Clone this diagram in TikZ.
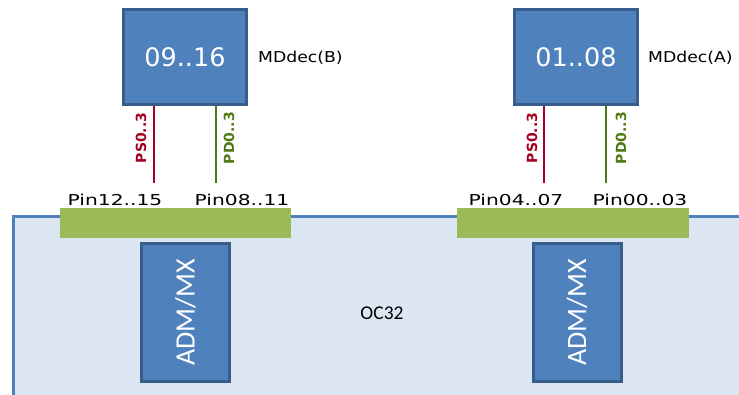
\documentclass[tikz,border=0pt]{standalone}
\usepackage{fontspec}
\setmainfont{DejaVu Sans}
\newfontfamily\pinfont[FakeStretch=1.35]{DejaVu Sans}
\newfontfamily\labfont[FakeStretch=1.15]{DejaVu Sans}
\newfontfamily\calfont{Carlito}
\usetikzlibrary{positioning}
\definecolor{boxblue}{RGB}{79,129,189}
\definecolor{boxedge}{RGB}{56,93,138}
\definecolor{panelfill}{RGB}{220,230,242}
\definecolor{bargreen}{RGB}{155,187,89}
\definecolor{psred}{RGB}{165,0,33}
\definecolor{pdgreen}{RGB}{79,122,19}
\tikzset{
  decbox/.style={draw=boxedge,fill=boxblue,line width=3pt,minimum width=123pt,minimum height=95pt,
    text=white,font=\fontsize{25.5}{30}\selectfont},
  admbox/.style={draw=boxedge,fill=boxblue,line width=3pt,minimum width=88pt,minimum height=138pt},
  pinbar/.style={fill=bargreen,minimum height=30pt,inner sep=0pt},
  pinlab/.style={anchor=base,inner sep=0pt,font=\pinfont\fontsize{15}{17}\selectfont},
  siglab/.style={rotate=90,inner sep=0pt,font=\bfseries\fontsize{14}{16}\selectfont},
  psline/.style={psred,line width=2pt},
  pdline/.style={pdgreen,line width=2pt},
}
\begin{document}
\begin{tikzpicture}[x=1pt,y=-1pt]
    \useasboundingbox (0,0) rectangle (739,394);
    % board
    \fill[panelfill] (13,216) rectangle (745,400);
    \draw[boxblue,line width=3pt] (745,216) -- (13,216) -- (13,400);
    \node[font=\calfont\fontsize{19.5}{22}\selectfont] (oc) at (382,313) {OC32};
    % connectors
    \node[pinbar,minimum width=231pt] (barB) at (175.5,223) {};
    \node[pinbar,minimum width=232pt] (barA) at (573,223) {};
    \node[pinlab] (pin1215) at (115,205) {Pin12..15};
    \node[pinlab] (pin0811) at (242,205) {Pin08..11};
    \node[pinlab] (pin0407) at (516,205) {Pin04..07};
    \node[pinlab] (pin0003) at (640,205) {Pin00..03};
    % ADM/MX modules
    \node[admbox] (admB) at (185.5,312.5) {};
    \node[admbox] (admA) at (577,312.5) {};
    \node[rotate=90,text=white,font=\calfont\fontsize{28}{32}\selectfont] at (admB) {ADM/MX};
    \node[rotate=90,text=white,font=\calfont\fontsize{28}{32}\selectfont] at (admA) {ADM/MX};
    % decoders
    \node[decbox] (decB) at (185,57) {09..16};
    \node[decbox] (decA) at (576,57) {01..08};
    \node[anchor=west,inner sep=0pt,font=\labfont\fontsize{15}{18}\selectfont] (mdB) at ([xshift=10pt,yshift=-1pt]decB.east) {MDdec(B)};
    \node[anchor=west,inner sep=0pt,font=\labfont\fontsize{15}{18}\selectfont] (mdA) at ([xshift=9pt,yshift=-1pt]decA.east) {MDdec(A)};
    % signal lines
    \coordinate (psB) at (154,183);
    \coordinate (pdB) at (216,183);
    \coordinate (psA) at (544,183);
    \coordinate (pdA) at (606,183);
    \draw[psline] (decB.south -| psB) -- (psB);
    \draw[pdline] (decB.south -| pdB) -- (pdB);
    \draw[psline] (decA.south -| psA) -- (psA);
    \draw[pdline] (decA.south -| pdA) -- (pdA);
    \node[siglab,text=psred] at (141,138) {PS0..3};
    \node[siglab,text=pdgreen] at (229,138) {PD0..3};
    \node[siglab,text=psred] at (532,138) {PS0..3};
    \node[siglab,text=pdgreen] at (621,138) {PD0..3};
\end{tikzpicture}
\end{document}
